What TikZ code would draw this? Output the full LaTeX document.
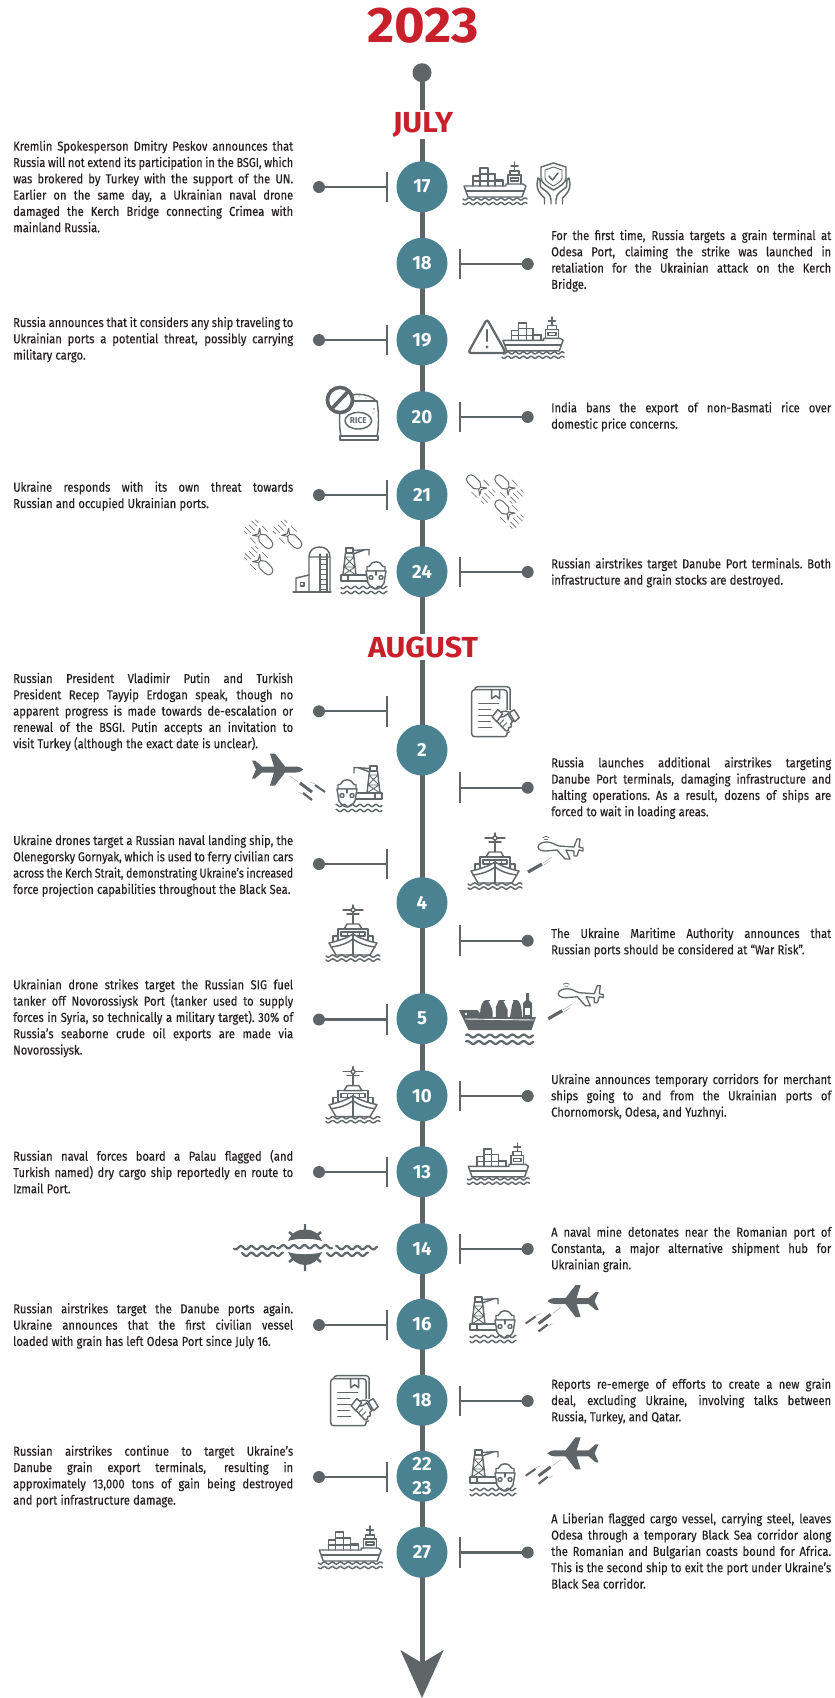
\documentclass[tikz,border=0pt]{standalone}
\usepackage{fontspec}
\usepackage{graphicx}
\newfontfamily\bodyf{Fira Sans}[FakeStretch=0.86,FakeBold=0.25]
\newfontfamily\headf{Fira Sans}[FakeStretch=0.98]
\newfontfamily\titlef{Fira Sans}[FakeStretch=1.05]
\definecolor{tealc}{HTML}{4A8292}
\definecolor{redc}{HTML}{C8202B}
\definecolor{darkc}{HTML}{5F6466}
\definecolor{iconc}{HTML}{626769}
\definecolor{trailc}{HTML}{B4B7B8}
\definecolor{textc}{HTML}{231F20}
\newsavebox\jlbox
\newcommand\JL[1]{\sbox\jlbox{\spaceskip=.21em\xspaceskip=\spaceskip #1}%
  \ifdim\wd\jlbox>280pt \hbox to 280pt{\resizebox{280pt}{\ht\jlbox}{\usebox\jlbox}}%
  \else \hbox to 280pt{\spaceskip=.21em plus 1fil\xspaceskip=\spaceskip #1}\fi}
\newcommand\LL[1]{\hbox{\spaceskip=.25em\xspaceskip=\spaceskip #1}}
\newcommand\bodyfont{\bodyf\fontsize{13}{16.3}\selectfont}
\def\wvamp{1.15}
\newcommand\wavy[4][45]{\draw[wavestyle] plot[domain=#2:#3,samples=50] (\x,{#4+\wvamp*sin(\x*#1)});}
\tikzset{
  x=1pt,y=-1pt,
  spine/.style={draw=darkc,line width=5pt},
  conn/.style={draw=darkc,line width=2.1pt},
  dotn/.style={circle,fill=darkc,inner sep=0,minimum size=12pt},
  daynode/.style={circle,fill=tealc,inner sep=0,minimum size=51pt,text=white,align=center,font=\headf\bfseries\fontsize{19}{24.3}\selectfont},
  month/.style={anchor=base,fill=white,inner xsep=1pt,inner ysep=2pt,text=redc,font=\titlef\bfseries\fontsize{29}{30}\selectfont},
  txt/.style={anchor=base west,inner sep=0,text=textc,font=\bodyfont},
  ico/.style={draw=iconc,line width=1.45pt,line join=round,line cap=round},
  wavestyle/.style={ico},
  icofill/.style={fill=darkc,draw=none},
  trail/.style={draw=trailc,line width=.6pt},
  pics/cargoship/.style={code={
    \draw[ico,fill=white] (1,24) -- (43,24) -- (43,22) -- (60,22) -- (63,24) -- (59,35) -- (5,35) -- cycle;
    \draw[ico] (3,29) -- (61,29);
    \draw[ico] (10,24) -- (10,14) -- (17,14) -- (17,6) -- (25,6) -- (25,12) -- (32,12) -- (32,18) -- (40,18) -- (40,24);
    \draw[ico] (17,14) -- (17,24) (25,12) -- (25,24) (32,18) -- (32,24) (10,19) -- (40,19) (17,12) -- (32,12);
    \draw[ico] (45,22) -- (45,13) -- (58,13) -- (58,22) (47,13) -- (47,9) -- (56,9) -- (56,13);
    \draw[ico] (47.5,16) rectangle (55.5,19);
    \draw[ico] (51.5,9) -- (51.5,0) (48,4) -- (55,4);
    \wavy{0}{64}{37}
    \wavy{0}{64}{41.5}
  }},
  pics/shieldhands/.style={code={
    \draw[ico] (4,4) -- (16.5,0) -- (29,4) -- (29,15) .. controls (29,20) and (22,24) .. (16.5,27) .. controls (11,24) and (4,20) .. (4,15) -- cycle;
    \draw[ico,line width=.9pt] (8,7) -- (16.5,4) -- (25,7) -- (25,15) .. controls (25,18) and (20,21) .. (16.5,23) .. controls (13,21) and (8,18) .. (8,15) -- cycle;
    \draw[ico] (12,13) -- (15.5,17) -- (21,10);
    \draw[ico] (7.5,41) -- (7.5,35) .. controls (3,31) and (0,27) .. (0,21) -- (1,15) -- (3,17) -- (3.5,24) -- (10,29) .. controls (13,32) and (14,34) .. (14,37) -- (14,41);
    \draw[ico] (25.5,41) -- (25.5,35) .. controls (30,31) and (33,27) .. (33,21) -- (32,15) -- (30,17) -- (29.5,24) -- (23,29) .. controls (20,32) and (19,34) .. (19,37) -- (19,41);
  }},
  pics/warnsign/.style={code={
    \draw[ico,line width=2.2pt,fill=white,rounded corners=3pt] (19,0) -- (38,34) -- (0,34) -- cycle;
    \draw[ico,line width=2.4pt] (19,11) -- (19,22);
    \fill[iconc] (19,28) circle [radius=1.7];
  }},
  pics/ricebag/.style={code={
    \draw[ico] (3,8) .. controls (8,-1) and (30,-1) .. (37,8);
    \draw[ico] (2,8) -- (38,8);
    \draw[ico] (2,8) .. controls (0,20) and (0,34) .. (2,43) -- (38,43) .. controls (40,34) and (40,20) .. (38,8);
    \draw[ico] (1,43) rectangle (39,47);
    \draw[ico] (19.3,27.7) ellipse [x radius=13.3,y radius=8.3];
    \fill[iconc] (35,16) circle [radius=.9] (34,20) circle [radius=.7] (12,4) circle [radius=.7] (20,3) circle [radius=.7] (27,5) circle [radius=.7];
    \node[inner sep=0,text=iconc,font=\headf\bfseries\fontsize{8.5}{9}\selectfont] (ricelabel) at (19.3,27.7) {RICE};
    \draw[draw=darkc,line width=3.6pt,fill=white] (1,7) circle [radius=12.6];
    \draw[draw=darkc,line width=3.6pt] (-7.5,16) -- (9.5,-2);
  }},
  pics/bomb/.style={code={
    \draw[ico,line width=1pt,fill=white] (-5,-4.6) -- (3,-4.6) .. controls (6,-4.6) and (8,-2.5) .. (8,0) .. controls (8,2.5) and (6,4.6) .. (3,4.6) -- (-5,4.6) -- (-9,1.4) -- (-9,-1.4) -- cycle;
    \draw[ico,line width=1pt] (-9,-1.4) -- (-14,-5) -- (-11,0) -- (-14,5) -- (-9,1.4);
    \draw[draw=iconc,line width=.55pt] (-25,-4.5) -- (-17,-4.5) (-24,0) -- (-16,0) (-25,4.5) -- (-17,4.5) (-14,-8.5) -- (-6,-8.5) (-14,8.5) -- (-6,8.5) (-23,-8) -- (-19,-8) (-23,8) -- (-19,8);
  }},
  pics/silo/.style={code={
    \draw[ico] (0,45) -- (38,45);
    \draw[ico] (16,45) -- (16,10) .. controls (16,3) and (21,0) .. (26.5,0) .. controls (32,0) and (37,3) .. (37,10) -- (37,45) (16,10) -- (37,10);
    \draw[ico] (27,7) -- (27,45) (34,7) -- (34,45);
    \foreach \r in {12,17,...,42} {\draw[ico,line width=.9pt] (27,\r) -- (34,\r);}
    \draw[ico] (3,45) -- (3,31) -- (16,28);
    \draw[ico] (7.5,35.5) rectangle (11,39);
  }},
  pics/portship/.style={code={
    \draw[ico] (5,0) rectangle (12,5);
    \draw[ico] (4.5,5) -- (2,27) (12.5,5) -- (15,27);
    \draw[ico,line width=.9pt] (4,9) -- (13,9) (3,19) -- (14,19) (4,9) -- (14,19) (13,9) -- (3,19) (3,19) -- (15,27) (14,19) -- (2,27);
    \draw[ico] (12,2.5) -- (28,1.5) -- (28,7) (12,6) -- (23,2);
    \draw[ico] (0,27) -- (25,27) (0,27) -- (0,33) -- (26,33) (7,27) -- (7,33);
    \draw[ico,fill=white] (28,18.5) -- (31,15) .. controls (33,13.5) and (37,13.5) .. (39,15) -- (42,18.5) -- (44,18.5) -- (44,23) -- (26,23) -- (26,18.5) -- cycle;
    \draw[ico,fill=white] (25,23) -- (45,23) -- (43,35) .. controls (41,39) and (37,41) .. (35,41) .. controls (33,41) and (29,39) .. (27,35) -- cycle;
    \draw[ico] (30,29.5) circle [radius=2] (40,29.5) circle [radius=2];
    \draw[ico] (35,23) -- (35,27);
    \wavy{0}{46}{39.5}
    \wavy{0}{46}{44.5}
  }},
  pics/dealdoc/.style={code={
    \draw[ico,fill=white,rounded corners=3pt] (3,0) rectangle (38.5,46);
    \draw[ico,fill=white,rounded corners=3pt] (0,3) rectangle (35.5,50);
    \draw[ico] (20,3) -- (20,12) -- (24,9) -- (28,12) -- (28,3);
    \draw[ico] (7,17) -- (27,17) (7,23) -- (19,23) (7,29) -- (21,29) (7,35) -- (19,35) (7,41) -- (20,41);
    \fill[white] (34,34) ellipse [x radius=15,y radius=11];
    \draw[ico,fill=white] (20.5,30) -- (26,23) -- (31,27) -- (25,35) -- cycle;
    \draw[ico,fill=white] (47.5,31) -- (42.5,23) -- (37.5,26) -- (43,35) -- cycle;
    \draw[ico] (29,25.5) .. controls (33,24) and (36,24) .. (38.5,26.5);
    \draw[ico] (25,34.5) -- (34,44) .. controls (36,45.5) and (38,43) .. (37,41) .. controls (39,42) and (41,39) .. (39,37) -- (42,33.5);
    \draw[ico] (29,30) .. controls (31,31) and (34,29) .. (36,27) -- (41,35);
    \draw[ico,line width=.9pt] (28,37) -- (32,33) (31,40) -- (35,36);
  }},
  pics/strike/.style={code={
    \fill[icofill] (53.3,19.5) .. controls (50,17) and (48,16.5) .. (46,16.5) -- (35,16.5) -- (25,3.5) -- (20,3.5) -- (24,16.5) -- (12,16.5) -- (5,10.5) -- (2,10.5) -- (6,19.5) -- (2,28.5) -- (5,28.5) -- (12,22.5) -- (24,22.5) -- (20,35.5) -- (25,35.5) -- (35,22.5) -- (46,22.5) .. controls (48,22.5) and (50,22) .. cycle;
    \draw[trail] (40,26) -- (48,32) (60,32) -- (65,34) (48,42) -- (52,44);
    \draw[draw=darkc,line width=3pt] (50,33) -- (62,42);
    \draw[draw=darkc,line width=2pt] (65,35) -- (75,42);
    \draw[draw=darkc,line width=2.2pt] (53,43) -- (62,50);
  }},
  pics/drone/.style={code={
    \draw[ico,line width=1.3pt,fill=white] (0,12) .. controls (0,9) and (4,7) .. (9,7) .. controls (14,7) and (17,10) .. (21,11) -- (36,12) -- (39,4) -- (42,4) -- (41,12) -- (45,13) -- (45,16) -- (41,15) -- (39,21) -- (36,21) -- (36,16) -- (28,15) -- (32,24) -- (27,24) -- (19,15) -- (8,16) .. controls (4,16) and (0,15) .. cycle;
    \draw[ico,line width=.8pt] (5,2.5) .. controls (7,1) and (9,1) .. (11,2.5) (6.5,4.5) -- (9.5,4.5);
    \draw[draw=darkc,line width=3.2pt] (-10,37) -- (4,29);
    \draw[trail] (5,28) -- (14,22) (6,30) -- (12,26);
  }},
  pics/warship/.style={code={
    \draw[ico] (27,0) -- (27,19) (17,5) -- (37,5) (21,9) -- (33,9);
    \draw[ico,fill=white] (27,5) circle [radius=2];
    \draw[ico,fill=white] (21,19) -- (33,19) -- (36,24) -- (18,24) -- cycle;
    \draw[ico] (12,36) -- (12,24) -- (42,24) -- (42,36);
    \draw[ico] (15,27) rectangle (39,31);
    \draw[ico,line width=.9pt] (21,27) -- (21,31) (27,27) -- (27,31) (33,27) -- (33,31);
    \draw[ico] (7,37) -- (7,31) -- (12,31) (47,37) -- (47,31) -- (42,31);
    \draw[ico,fill=white] (3,38) .. controls (12,36) and (21,33) .. (27,29) .. controls (33,33) and (42,36) .. (51,38) -- (44,50) -- (10,50) -- cycle;
    \draw[ico] (5,42) .. controls (14,41) and (22,38) .. (27,34) .. controls (32,38) and (40,41) .. (49,42);
    \draw[ico] (27,29) -- (27,50);
    \wavy[40]{0}{54}{51}
    \wavy[40]{0}{54}{55}
  }},
  pics/tanker/.style={code={
    \fill[icofill] (0,17) -- (18.5,17) -- (24,24) -- (77,24) -- (72.5,37) -- (9.5,37) -- cycle;
    \draw[draw=white,line width=.9pt] (6,26) -- (75,27);
    \fill[white] (6,20) rectangle (8,22);
    \fill[icofill] (21,24) .. controls (21,12) and (24,7) .. (27,7) -- (31,7) -- (35,24) -- cycle;
    \fill[icofill] (37,24) .. controls (36,12) and (38,7) .. (41,7) -- (45,7) .. controls (48,7) and (50,14) .. (49,24) -- cycle;
    \fill[icofill] (51,24) -- (54,7) -- (58,7) .. controls (61,8) and (63,14) .. (63,24) -- cycle;
    \fill[white] (29.5,8) -- (39.5,8) -- (35.5,16) -- (35.5,24) -- (33.5,24) -- (33.5,16) -- cycle;
    \fill[white] (44.5,8) -- (54.5,8) -- (50.5,16) -- (50.5,24) -- (48.5,24) -- (48.5,16) -- cycle;
    \fill[icofill] (64,24) -- (64,10) -- (67,7) -- (67,0) -- (70,0) -- (70,7) -- (73,10) -- (73,24) -- cycle;
    \fill[white] (66,15) rectangle (71,22);
    \begin{scope}[wavestyle/.style={ico,line width=2.2pt}]
      \def\wvamp{1.5}
      \wavy[32]{7}{74}{43}
      \wavy[32]{7}{74}{49.5}
    \end{scope}
  }}
}
\begin{document}
\begin{tikzpicture}
\useasboundingbox (0,0) rectangle (835,1698);
\node[dotn,minimum size=19pt] (start) at (422,72.7) {};
\coordinate (tip) at (422,1698);
\coordinate (lbarb) at (400.3,1650);
\coordinate (rbarb) at (443.7,1650);
\coordinate (notch) at (422,1663);
\draw[spine] (start) -- (notch);
\fill[darkc] (tip) -- (lbarb) -- (notch) -- (rbarb) -- cycle;

\node[anchor=base,inner sep=0,text=redc,font=\titlef\bfseries\fontsize{50}{52}\selectfont] (year) at (423,42) {2023};
\node[month] (july) at (423,132.3) {JULY};
\node[month] (august) at (423,657) {AUGUST};

\foreach \id/\y/\lab in {a/186.7/17,b/263.3/18,c/340/19,d/416.7/20,e/494.7/21,f/571.7/24,g/750/2,h/902.7/4,i/1018.7/5,j/1095.7/10,k/1171.7/13,l/1248.7/14,m/1324.3/16,n/1400.3/18,o/1476.3/{22\\23},p/1552.3/27}
  {\node[daynode] (day\id) at (422,\y) {\lab};}

\foreach \id/\y in {a/187,c/340,e/495,gl/711.3,hl/864,i/1019.5,k/1172,m/1325,o/1477} {
  \node[dotn] (dot\id) at (319,\y) {};
  \coordinate (bar\id) at (387.3,\y);
  \draw[conn] (dot\id) -- (bar\id);
  \draw[conn] ([yshift=15.3pt]bar\id) -- ([yshift=-15.3pt]bar\id);
}
\foreach \id/\y in {b/264,d/417,f/572,gr/787.7,hr/940.7,j/1096,l/1249,n/1401,p/1552.5} {
  \node[dotn] (dot\id) at (527.7,\y) {};
  \coordinate (bar\id) at (459.7,\y);
  \draw[conn] (dot\id) -- (bar\id);
  \draw[conn] ([yshift=15.3pt]bar\id) -- ([yshift=-15.3pt]bar\id);
}

% texts
\node[txt] (ta) at (13,150.7) {\vtop{\JL{Kremlin Spokesperson Dmitry Peskov announces that}\JL{Russia will not extend its participation in the BSGI, which}\JL{was brokered by Turkey with the support of the UN.}\JL{Earlier on the same day, a Ukrainian naval drone}\JL{damaged the Kerch Bridge connecting Crimea with}\LL{mainland Russia.}}};
\node[txt] (tb) at (551,240) {\vtop{\JL{For the first time, Russia targets a grain terminal at}\JL{Odesa Port, claiming the strike was launched in}\JL{retaliation for the Ukrainian attack on the Kerch}\LL{Bridge.}}};
\node[txt] (tc) at (13,327) {\vtop{\JL{Russia announces that it considers any ship traveling to}\JL{Ukrainian ports a potential threat, possibly carrying}\LL{military cargo.}}};
\node[txt] (td) at (551,412.3) {\vtop{\JL{India bans the export of non-Basmati rice over}\LL{domestic price concerns.}}};
\node[txt] (te) at (13,491.7) {\vtop{\JL{Ukraine responds with its own threat towards}\LL{Russian and occupied Ukrainian ports.}}};
\node[txt] (tf) at (551,568.3) {\vtop{\JL{Russian airstrikes target Danube Port terminals. Both}\LL{infrastructure and grain stocks are destroyed.}}};
\node[txt] (tgl) at (13,683) {\vtop{\JL{Russian President Vladimir Putin and Turkish}\JL{President Recep Tayyip Erdogan speak, though no}\JL{apparent progress is made towards de-escalation or}\JL{renewal of the BSGI. Putin accepts an invitation to}\LL{visit Turkey (although the exact date is unclear).}}};
\node[txt] (tgr) at (551,767.3) {\vtop{\JL{Russia launches additional airstrikes targeting}\JL{Danube Port terminals, damaging infrastructure and}\JL{halting operations. As a result, dozens of ships are}\LL{forced to wait in loading areas.}}};
\node[txt] (thl) at (13,845) {\vtop{\JL{Ukraine drones target a Russian naval landing ship, the}\JL{Olenegorsky Gornyak, which is used to ferry civilian cars}\JL{across the Kerch Strait, demonstrating Ukraine’s increased}\LL{force projection capabilities throughout the Black Sea.}}};
\node[txt] (thr) at (551,938) {\vtop{\JL{The Ukraine Maritime Authority announces that}\LL{Russian ports should be considered at “War Risk”.}}};
\node[txt] (ti) at (13,989.3) {\vtop{\JL{Ukrainian drone strikes target the Russian SIG fuel}\JL{tanker off Novorossiysk Port (tanker used to supply}\JL{forces in Syria, so technically a military target). 30\% of}\JL{Russia’s seaborne crude oil exports are made via}\LL{Novorossiysk.}}};
\node[txt] (tj) at (551,1084) {\vtop{\JL{Ukraine announces temporary corridors for merchant}\JL{ships going to and from the Ukrainian ports of}\LL{Chornomorsk, Odesa, and Yuzhnyi.}}};
\node[txt] (tk) at (13,1160.7) {\vtop{\JL{Russian naval forces board a Palau flagged (and}\JL{Turkish named) dry cargo ship reportedly en route to}\LL{Izmail Port.}}};
\node[txt] (tl) at (551,1236.7) {\vtop{\JL{A naval mine detonates near the Romanian port of}\JL{Constanta, a major alternative shipment hub for}\LL{Ukrainian grain.}}};
\node[txt] (tm) at (13,1313.3) {\vtop{\JL{Russian airstrikes target the Danube ports again.}\JL{Ukraine announces that the first civilian vessel}\LL{loaded with grain has left Odesa Port since July 16.}}};
\node[txt] (tn) at (551,1388.7) {\vtop{\JL{Reports re-emerge of efforts to create a new grain}\JL{deal, excluding Ukraine, involving talks between}\LL{Russia, Turkey, and Qatar.}}};
\node[txt] (to) at (13,1455.7) {\vtop{\JL{Russian airstrikes continue to target Ukraine’s}\JL{Danube grain export terminals, resulting in}\JL{approximately 13,000 tons of gain being destroyed}\LL{and port infrastructure damage.}}};
\node[txt] (tp) at (551,1523.3) {\vtop{\JL{A Liberian flagged cargo vessel, carrying steel, leaves}\JL{Odesa through a temporary Black Sea corridor along}\JL{the Romanian and Bulgarian coasts bound for Africa.}\JL{This is the second ship to exit the port under Ukraine’s}\LL{Black Sea corridor.}}};

% icons
\pic at (463,162) {cargoship};
\pic at (537,163) {shieldhands};
\pic[scale=.97] at (502,317) {cargoship};
\pic at (468,319) {warnsign};
\pic at (339,393) {ricebag};
\pic[rotate=-45,xscale=-1] at (473.3,481.7) {bomb};
\pic[rotate=-45,xscale=-1] at (501.7,481.7) {bomb};
\pic[rotate=-45,xscale=-1] at (501.7,506.7) {bomb};
\pic[rotate=-45] at (266,541.7) {bomb};
\pic[rotate=-45] at (295,541.7) {bomb};
\pic[rotate=-45] at (266,568) {bomb};
\pic at (293,547) {silo};
\pic at (341,548) {portship};
\pic at (471.7,686.7) {dealdoc};
\pic at (250,750) {strike};
\pic[xscale=-1] at (382,766) {portship};
\pic at (468,833) {warship};
\pic at (538,835) {drone};
\pic at (326,905) {warship};
\pic at (459,993) {tanker};
\pic at (558.3,981.7) {drone};
\pic at (326,1066.7) {warship};
\pic[scale=.97] at (467.3,1143) {cargoship};
\pic at (470,1297) {portship};
\pic[xscale=-1] at (600.6,1281.5) {strike};
\pic at (330.7,1375.7) {dealdoc};
\pic at (470,1450) {portship};
\pic[xscale=-1] at (600.6,1433.8) {strike};
\pic at (318.3,1526) {cargoship};

% mine
\fill[darkc] (288,1241) .. controls (292,1232) and (298,1229.5) .. (305,1229.5) .. controls (312,1229.5) and (318,1232) .. (322,1241) .. controls (314,1238) and (296,1238) .. cycle;
\fill[darkc] (288,1252) .. controls (296,1255) and (314,1255) .. (322,1252) .. controls (318,1261) and (312,1265) .. (305,1265) .. controls (298,1265) and (292,1261) .. cycle;
\draw[draw=darkc,line width=2.4pt] (305,1224) -- (305,1231) (289,1232) -- (294,1236) (321,1232) -- (316,1236) (305,1271) -- (305,1263) (289,1262) -- (294,1258) (321,1262) -- (316,1258);
\begin{scope}[wavestyle/.style={ico,line width=2.2pt}]
  \def\wvamp{1.7}
  \wavy[34]{234}{275}{1247.7}
  \wavy[34]{277}{332}{1246.7}
  \wavy[34]{336}{377}{1247.7}
  \wavy[34]{242}{283}{1254.3}
  \wavy[34]{327}{368}{1254.3}
\end{scope}
\end{tikzpicture}
\end{document}
